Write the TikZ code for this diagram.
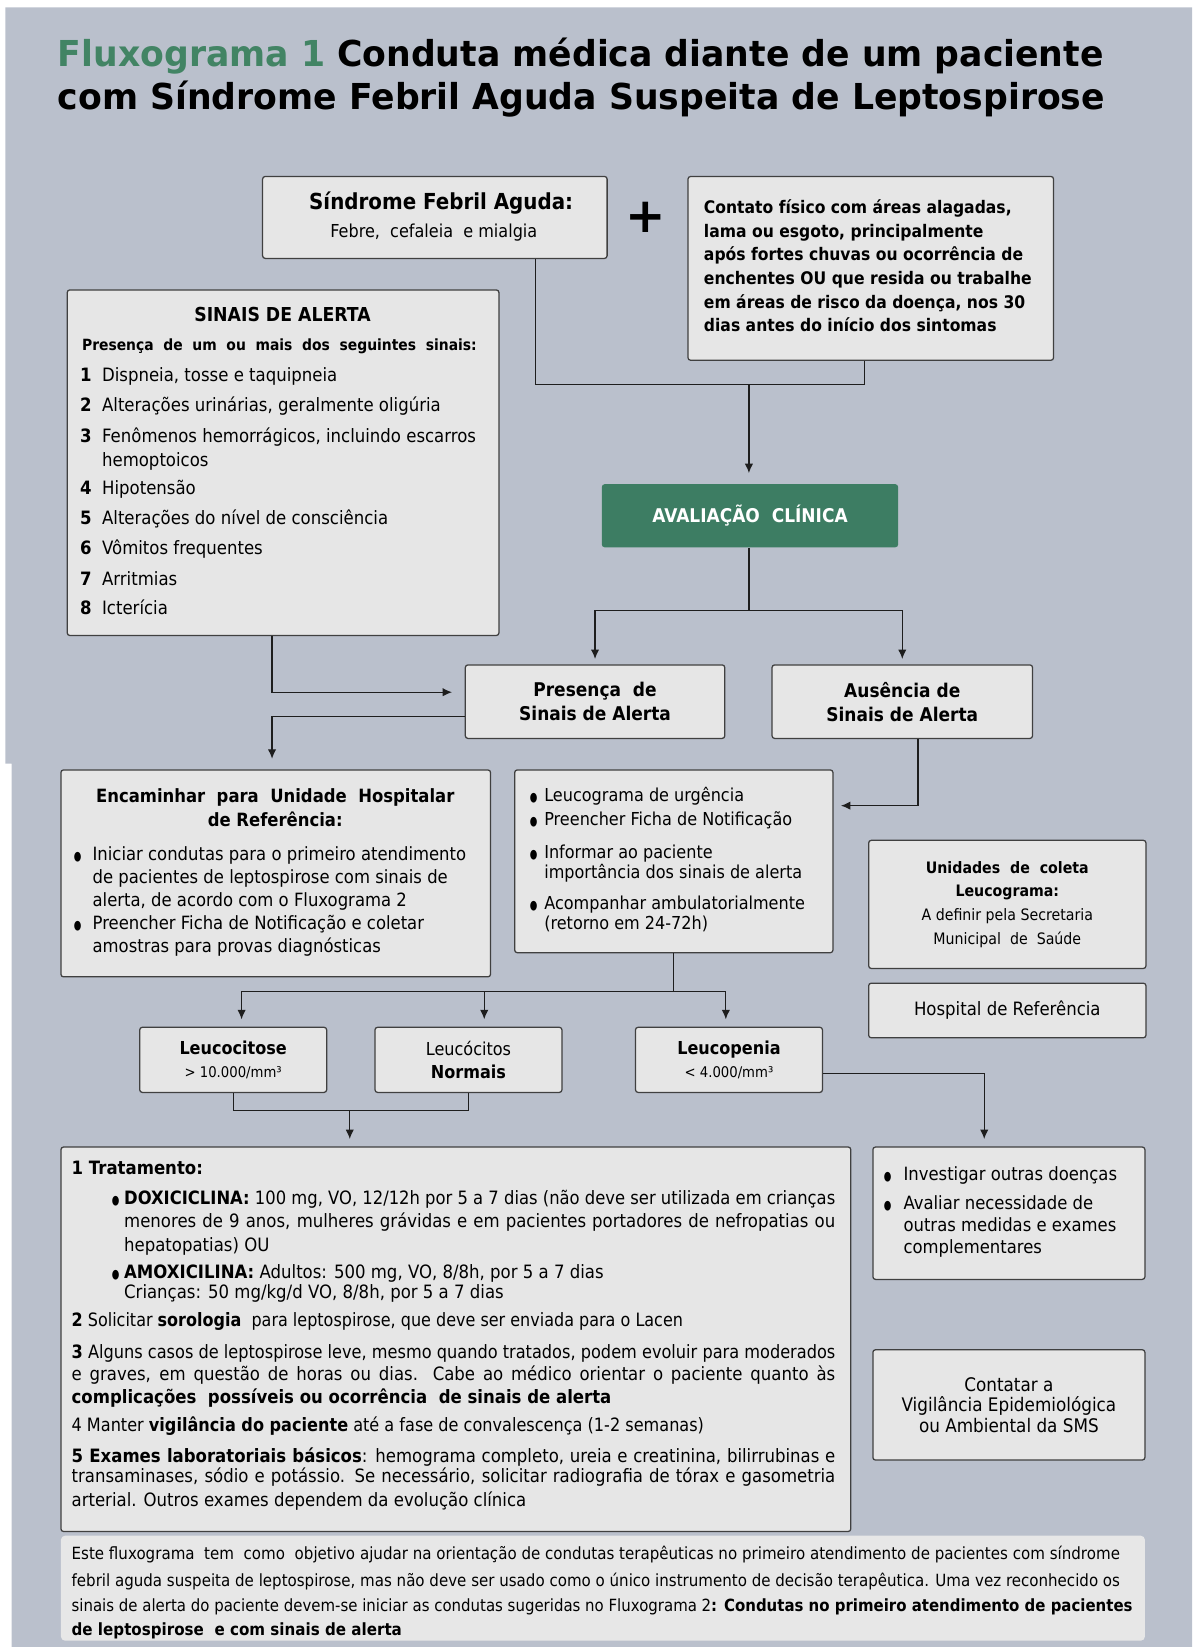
\documentclass[tikz,border=0pt]{standalone}
\usepackage{fontspec}
\usepackage{graphicx}
\setmainfont{DejaVu Sans}
\newfontfamily\tah[FakeStretch=0.9]{DejaVu Sans}
\newfontfamily\tit[FakeStretch=0.97]{DejaVu Sans}
\usetikzlibrary{arrows.meta}

\definecolor{bgcol}{RGB}{186,192,204}
\definecolor{boxfill}{RGB}{230,230,230}
\definecolor{boxline}{RGB}{64,64,64}
\definecolor{linecol}{RGB}{30,30,30}
\definecolor{avalgreen}{RGB}{61,125,99}
\definecolor{titlegreen}{RGB}{66,132,100}

\newcommand{\fs}[2]{\fontsize{#1}{#2}\selectfont}
\newcommand{\blt}{\scalebox{0.75}[1.1]{\fs{11}{11}●}}
\newsavebox\linebox
\newcommand{\fitline}[2]{\sbox\linebox{#2}\ifdim\wd\linebox>#1\resizebox{#1}{\height}{\usebox\linebox}\else\makebox[#1][s]{#2}\fi}

\tikzset{
  box/.style={draw=boxline, fill=boxfill, line width=1.2pt, rounded corners=2.5pt, inner sep=0pt, align=center},
  conn/.style={draw=linecol, line width=1.2pt},
  arr/.style={conn, -{Latex[length=9pt,width=8pt]}},
  lbl/.style={inner sep=0pt, anchor=base west},
  clbl/.style={inner sep=0pt, anchor=base},
}

\begin{document}
\begin{tikzpicture}[x=1pt, y=-1pt]
\useasboundingbox (0,0) rectangle (1135,1568);
\fill[bgcol] (5,7) -- (1135,7) -- (1135,1568) -- (11,1568) -- (11,727) -- (5,727) -- cycle;

% titulo
\node[lbl] (tit1) at (55,63) {\tit\bfseries\fs{34}{34}\textcolor{titlegreen}{Fluxograma 1} Conduta médica diante de um paciente};
\node[lbl] (tit2) at (55,104) {\tit\bfseries\fs{34}{34}com Síndrome Febril Aguda Suspeita de Leptospirose};

% caixas
\node[box, minimum width=328pt, minimum height=78pt] (sind) at (414,207) {};
\node[box, minimum width=348pt, minimum height=175pt] (cont) at (829,255.5) {};
\node[box, minimum width=411pt, minimum height=329pt] (sinais) at (269.5,440.5) {};
\node[box, draw=none, fill=avalgreen, minimum width=282pt, minimum height=60pt, text=white, font=\tah\bfseries\fs{18}{18}] (aval) at (714,491) {AVALIAÇÃO\ \ CLÍNICA};
\node[box, minimum width=247pt, minimum height=70pt, font=\tah\bfseries\fs{18}{23}] (pres) at (566.5,668) {Presença\ \ de\\Sinais de Alerta};
\node[box, minimum width=248pt, minimum height=70pt, font=\tah\bfseries\fs{18}{23}] (aus) at (859,668) {Ausência de\\Sinais de Alerta};
\node[box, minimum width=409pt, minimum height=197pt] (encam) at (262.5,831.5) {};
\node[box, minimum width=303pt, minimum height=174pt] (leuco) at (641.5,820) {};
\node[box, minimum width=264pt, minimum height=122pt, font=\tah\fs{15}{22.6}] (unid) at (959,861) {{\bfseries Unidades\ \ de\ \ coleta}\\{\bfseries Leucograma:}\\A definir pela Secretaria\\Municipal\ \ de\ \ Saúde};
\node[box, minimum width=264pt, minimum height=52pt, font=\tah\fs{17.5}{17.5}] (hosp) at (959,962) {Hospital de Referência};
\node[box, minimum width=178pt, minimum height=62pt, font=\tah\bfseries\fs{17}{22}] (lcit) at (222,1009) {Leucocitose\\{\mdseries\fs{14}{14}> 10.000/mm³}};
\node[box, minimum width=178pt, minimum height=62pt, font=\tah\fs{17}{22}] (lnor) at (446,1009) {Leucócitos\\{\bfseries Normais}};
\node[box, minimum width=178pt, minimum height=62pt, font=\tah\bfseries\fs{17}{22}] (lpen) at (694,1009) {Leucopenia\\{\mdseries\fs{14}{14}< 4.000/mm³}};
\node[box, minimum width=752pt, minimum height=366pt] (trat) at (434,1275) {};
\node[box, minimum width=259pt, minimum height=126pt] (inv) at (960.5,1155) {};
\node[box, minimum width=259pt, minimum height=105pt, font=\tah\fs{17.8}{19.5}] (vig) at (960.5,1337.5) {Contatar a\\Vigilância Epidemiológica\\ou Ambiental da SMS};
\node[box, draw=none, fill=boxfill!95!white, rounded corners=4pt, minimum width=1032pt, minimum height=100pt] (nota) at (574,1512) {};

% textos
\node[clbl] (sind1) at (420,199) {\tah\bfseries\fs{21}{21}Síndrome Febril Aguda:};
\node[clbl] (sind2) at (413,226) {\tah\fs{17}{17}Febre,\ \ cefaleia\ \ e mialgia};
\node (mais) at (615,207) {\fs{46}{46}\bfseries +};

\foreach \yy/\t [count=\i] in {203/{Contato físico com áreas alagadas,}, 226/{lama ou esgoto, principalmente}, 248/{após fortes chuvas ou ocorrência de}, 271/{enchentes OU que resida ou trabalhe}, 294/{em áreas de risco da doença, nos 30}, 316/{dias antes do início dos sintomas}}
  \node[lbl] (ct\i) at (670,\yy) {\tah\bfseries\fs{16.5}{16.5}\t};

\node[clbl] (sa) at (269,306) {\tah\bfseries\fs{18.3}{18.3}SINAIS DE ALERTA};
\node[clbl] (sb) at (266,334) {\tah\bfseries\fs{14.7}{14.7}Presença\ \ de\ \ um\ \ ou\ \ mais\ \ dos\ \ seguintes\ \ sinais:};
\foreach \n/\yy/\t in {1/363/{Dispneia, tosse e taquipneia}, 2/392/{Alterações urinárias, geralmente oligúria}, 3/421/{Fenômenos hemorrágicos, incluindo escarros}, 4/471/{Hipotensão}, 5/499/{Alterações do nível de consciência}, 6/528/{Vômitos frequentes}, 7/557/{Arritmias}, 8/585/{Icterícia}}{
  \node[lbl] (sn\n) at (76,\yy) {\tah\bfseries\fs{17.5}{17.5}\n};
  \node[lbl] (si\n) at (97,\yy) {\tah\fs{17.5}{17.5}\t};
}
\node[lbl] (si3b) at (97,444) {\tah\fs{17.5}{17.5}hemoptoicos};

\node[clbl] (en1) at (262,764) {\tah\bfseries\fs{17.4}{17.4}Encaminhar\ \ para\ \ Unidade\ \ Hospitalar};
\node[clbl] (en2) at (262,787) {\tah\bfseries\fs{17.4}{17.4}de Referência:};
\node[clbl] (enb1) at (74,819) {\blt};
\node[clbl] (enb2) at (74,885) {\blt};
\foreach \yy/\t [count=\i] in {819/{Iniciar condutas para o primeiro atendimento}, 841/{de pacientes de leptospirose com sinais de}, 863/{alerta, de acordo com o Fluxograma 2}, 885/{Preencher Ficha de Notificação e coletar}, 907/{amostras para provas diagnósticas}}
  \node[lbl] (en\i) at (88,\yy) {\tah\fs{17.4}{17.4}\t};

\foreach \yy in {763,786,817,866}
  \node[clbl] (lb\yy) at (508,\yy) {\blt};
\foreach \yy/\t [count=\i] in {763/{Leucograma de urgência}, 786/{Preencher Ficha de Notificação}, 817/{Informar ao paciente}, 836/{importância dos sinais de alerta}, 866/{Acompanhar ambulatorialmente}, 885/{(retorno em 24-72h)}}
  \node[lbl] (lg\i) at (518,\yy) {\tah\fs{17}{17}\t};

% tratamento
\node[lbl] (tr1) at (68,1118) {\tah\bfseries\fs{17.5}{17.5}1 Tratamento:};
\node[clbl] (trb1) at (110,1147) {\blt};
\node[lbl] (tr2) at (118,1147) {\tah\fs{17.5}{17.5}\fitline{677pt}{\bfseries DOXICICLINA:\mdseries\ 100 mg, VO, 12/12h por 5 a 7 dias (não deve ser utilizada em crianças}};
\node[lbl] (tr3) at (118,1169) {\tah\fs{17.5}{17.5}\fitline{677pt}{menores de 9 anos, mulheres grávidas e em pacientes portadores de nefropatias ou}};
\node[lbl] (tr4) at (118,1191) {\tah\fs{17.5}{17.5}hepatopatias) OU};
\node[clbl] (trb2) at (110,1217) {\blt};
\node[lbl] (tr5) at (118,1217) {\tah\fs{17.5}{17.5}\textbf{AMOXICILINA:} Adultos: 500 mg, VO, 8/8h, por 5 a 7 dias};
\node[lbl] (tr6) at (118,1236) {\tah\fs{17.5}{17.5}Crianças: 50 mg/kg/d VO, 8/8h, por 5 a 7 dias};
\node[lbl] (tr7) at (68,1263) {\tah\fs{17.5}{17.5}\fitline{582pt}{\textbf{2} Solicitar \textbf{sorologia}\ \ para leptospirose, que deve ser enviada para o Lacen}};
\node[lbl] (tr8) at (68,1293) {\tah\fs{17.5}{17.5}\fitline{727pt}{\textbf{3} Alguns casos de leptospirose leve, mesmo quando tratados, podem evoluir para moderados}};
\node[lbl] (tr9) at (68,1314) {\tah\fs{17.5}{17.5}\fitline{727pt}{e graves, em questão de horas ou dias. Cabe ao médico orientar o paciente quanto às}};
\node[lbl] (tr10) at (68,1336) {\tah\bfseries\fs{17.5}{17.5}complicações\ \ possíveis ou ocorrência\ \ de sinais de alerta};
\node[lbl] (tr11) at (68,1363) {\tah\fs{17.5}{17.5}\fitline{602pt}{4 Manter \textbf{vigilância do paciente} até a fase de convalescença (1-2 semanas)}};
\node[lbl] (tr12) at (68,1392) {\tah\fs{17.5}{17.5}\fitline{727pt}{\textbf{5 Exames laboratoriais básicos}: hemograma completo, ureia e creatinina, bilirrubinas e}};
\node[lbl] (tr13) at (68,1411) {\tah\fs{17.5}{17.5}\fitline{727pt}{transaminases, sódio e potássio. Se necessário, solicitar radiografia de tórax e gasometria}};
\node[lbl] (tr14) at (68,1434) {\tah\fs{17.5}{17.5}arterial. Outros exames dependem da evolução clínica};

\node[clbl] (ivb1) at (845,1124) {\blt};
\node[clbl] (ivb2) at (845,1151) {\blt};
\foreach \yy/\t [count=\i] in {1124/{Investigar outras doenças}, 1151/{Avaliar necessidade de}, 1172/{outras medidas e exames}, 1193/{complementares}}
  \node[lbl] (iv\i) at (860,\yy) {\tah\fs{17.4}{17.4}\t};

% nota
\node[lbl] (nt1) at (68,1485) {\tah\fs{16}{16}\fitline{998pt}{Este fluxograma\ \ tem\ \ como\ \ objetivo ajudar na orientação de condutas terapêuticas no primeiro atendimento de pacientes com síndrome}};
\node[lbl] (nt2) at (68,1510) {\tah\fs{16}{16}\fitline{998pt}{febril aguda suspeita de leptospirose, mas não deve ser usado como o único instrumento de decisão terapêutica. Uma vez reconhecido os}};
\node[lbl] (nt3) at (68,1534) {\tah\fs{16}{16}\fitline{1010pt}{sinais de alerta do paciente devem-se iniciar as condutas sugeridas no Fluxograma 2\textbf{: Condutas no primeiro atendimento de pacientes}}};
\node[lbl] (nt4) at (68,1557) {\tah\bfseries\fs{16}{16}de leptospirose\ \ e com sinais de alerta};

% ligacoes
\coordinate (j1) at (713,366);
\coordinate (j2) at (713,581);
\coordinate (j3) at (641,944);
\coordinate (j4) at (333,1057);
\draw[conn] ([xshift=96pt]sind.south) |- (j1) -| ([xshift=-6pt]cont.south);
\draw[arr, shorten >=10pt] (j1) -- (aval.north -| j1);
\draw[conn] (aval.south -| j2) -- (j2);
\draw[arr, shorten >=5pt] (j2) -| (pres.north);
\draw[arr, shorten >=5pt] (j2) -| (aus.north);
\draw[arr, shorten >=12pt] ([xshift=-10.5pt]sinais.south) |- ([yshift=9pt]pres.west);
\draw[arr, shorten >=10pt] ([yshift=-14pt]pres.west) -| ([xshift=-3.5pt]encam.north);
\draw[arr, shorten >=7pt] ([xshift=15pt]aus.south) |- ([yshift=53pt]leuco.east);
\draw[conn] (leuco.south -| j3) -- (j3);
\draw[arr, shorten >=7pt] (j3) -| ([xshift=8pt]lcit.north);
\draw[arr, shorten >=7pt] (j3) -| ([xshift=15pt]lnor.north);
\draw[arr, shorten >=7pt] (j3) -| ([xshift=-3pt]lpen.north);
\draw[conn] (lcit.south) |- (j4) -| (lnor.south);
\draw[arr, shorten >=7pt] (j4) -- (j4 |- trat.north);
\draw[arr, shorten >=7pt] ([yshift=-13pt]lpen.east) -| ([xshift=-23.5pt]inv.north);
\end{tikzpicture}
\end{document}
